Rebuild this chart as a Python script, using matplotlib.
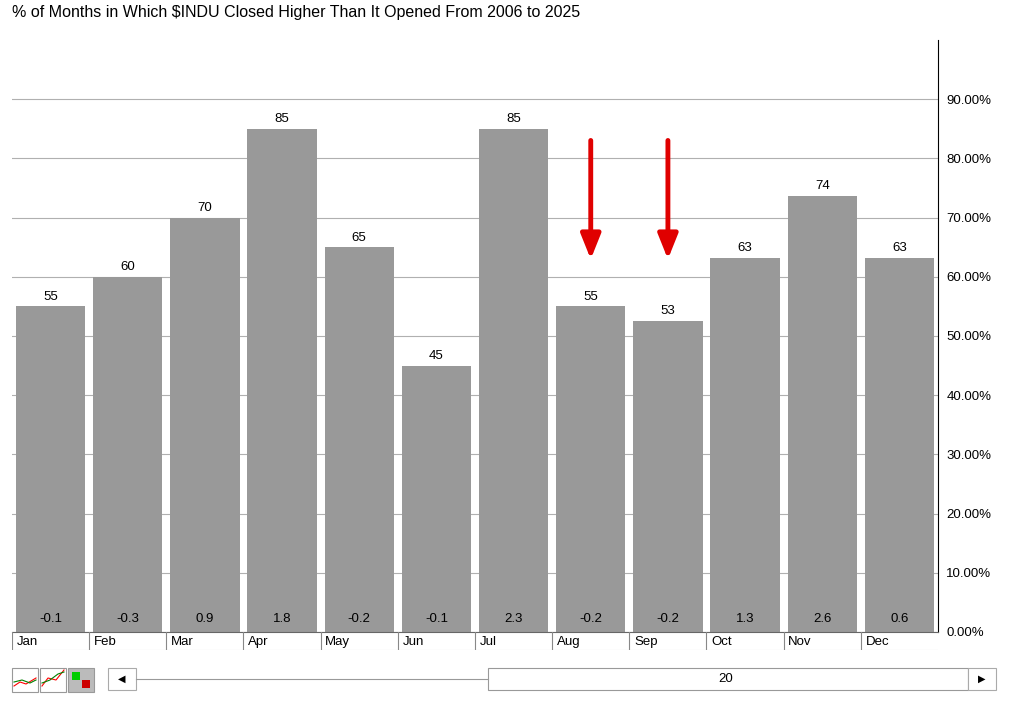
import matplotlib.pyplot as plt
from matplotlib.patches import Rectangle

plt.rcParams['font.family'] = ['Liberation Sans', 'DejaVu Sans']

months = ['Jan', 'Feb', 'Mar', 'Apr', 'May', 'Jun', 'Jul', 'Aug', 'Sep', 'Oct', 'Nov', 'Dec']
pct_higher = [55, 60, 70, 85, 65, 45, 85, 55, 52.6, 63.2, 73.7, 63.2]
top_labels = ['55', '60', '70', '85', '65', '45', '85', '55', '53', '63', '74', '63']
avg_change = ['-0.1', '-0.3', '0.9', '1.8', '-0.2', '-0.1', '2.3', '-0.2', '-0.2', '1.3', '2.6', '0.6']
yticks = [0, 10, 20, 30, 40, 50, 60, 70, 80, 90]
arrow_months = ['Aug', 'Sep']

W, H = 1024, 701
fig = plt.figure(figsize=(W / 100, H / 100), dpi=100)
fig.text(12 / W, 1 - 13 / H, '% of Months in Which $INDU Closed Higher Than It Opened From 2006 to 2025',
         fontsize=11.5, va='center', ha='left')

ax = fig.add_axes([12 / W, 69 / H, 926 / W, 592 / H])
x = list(range(len(months)))
ax.bar([i + 0.5 for i in x], pct_higher, width=0.9, color='#999999', zorder=2)
for i in x:
    ax.text(i + 0.5, pct_higher[i] + 0.6, top_labels[i], ha='center', va='bottom', fontsize=9.5)
    ax.text(i + 0.5, 1.2, avg_change[i], ha='center', va='bottom', fontsize=9.5)
for m in arrow_months:
    i = months.index(m) + 0.5
    ax.annotate('', xy=(i, 62.5), xytext=(i, 83.5),
                arrowprops=dict(arrowstyle='-|>,head_width=0.6,head_length=1.5', color='#e00000', lw=3.5))
ax.set_xlim(0, 12)
ax.set_ylim(0, 100)
ax.set_yticks(yticks)
ax.set_yticklabels([f'{v:.2f}%' for v in yticks], fontsize=9.5)
ax.yaxis.tick_right()
ax.tick_params(axis='y', length=0, pad=6)
ax.set_xticks([])
ax.grid(axis='y', color='#b0b0b0', lw=0.8, zorder=0)
for s in ['top', 'left']:
    ax.spines[s].set_visible(False)
ax.spines['right'].set_color('black')
ax.spines['bottom'].set_color('#666666')

# month label strip
lab = fig.add_axes([12 / W, 51 / H, 926 / W, 18 / H])
lab.set_xlim(0, 12)
lab.set_ylim(0, 1)
lab.axis('off')
for i in x:
    lab.plot([i, i], [0, 1], color='#888888', lw=0.8)
    lab.text(i + 0.06, 0.45, months[i], fontsize=9.5, va='center', ha='left')
lab.plot([0, 12], [0, 0], color='#cccccc', lw=0.8)

# control bar
ctl = fig.add_axes([0, 0, 1, 45 / H])
ctl.set_xlim(0, W)
ctl.set_ylim(45, 0)
ctl.axis('off')
for x0 in [12, 40, 68]:
    ctl.add_patch(Rectangle((x0, 12), 26, 24, fc='white' if x0 < 68 else '#bbbbbb', ec='#999999', lw=0.8))
ctl.plot([14, 20, 26, 36], [30, 26, 28, 22], color='red', lw=0.8)
ctl.plot([14, 22, 30, 36], [26, 24, 27, 24], color='green', lw=0.8)
ctl.plot([42, 48, 56, 64], [30, 22, 24, 14], color='red', lw=0.8)
ctl.plot([42, 50, 58, 64], [27, 24, 18, 16], color='green', lw=0.8)
ctl.add_patch(Rectangle((72, 16), 8, 8, fc='#00cc00'))
ctl.add_patch(Rectangle((82, 24), 8, 8, fc='#cc0000'))
ctl.add_patch(Rectangle((108, 12), 28, 22, fc='white', ec='#aaaaaa', lw=0.8))
ctl.text(122, 23, '◀', fontsize=7, ha='center', va='center', family='DejaVu Sans')
ctl.plot([136, 488], [23, 23], color='#999999', lw=0.8)
ctl.add_patch(Rectangle((488, 12), 480, 22, fc='white', ec='#999999', lw=0.8))
ctl.text(726, 23, '20', fontsize=9.5, ha='center', va='center')
ctl.add_patch(Rectangle((968, 12), 28, 22, fc='white', ec='#aaaaaa', lw=0.8))
ctl.text(982, 23, '▶', fontsize=7, ha='center', va='center', family='DejaVu Sans')

fig.savefig('out.png', dpi=100)
